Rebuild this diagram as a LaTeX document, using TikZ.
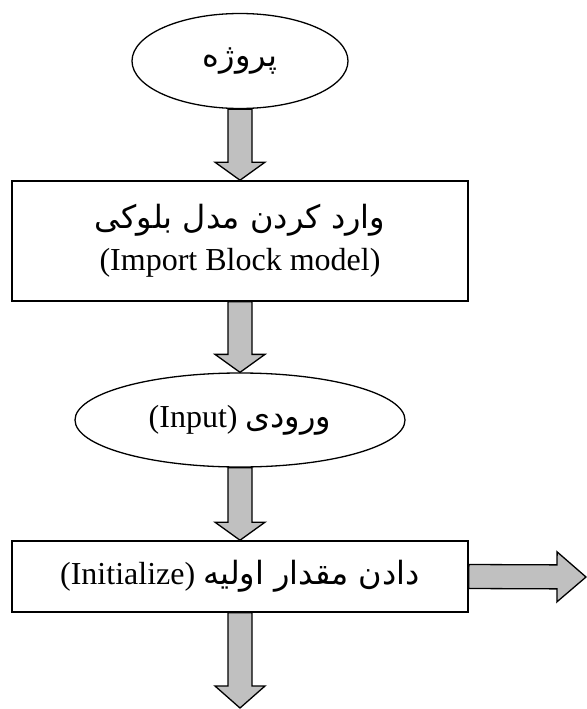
\documentclass[tikz,border=0pt]{standalone}
\usepackage{fontspec}
\setmainfont{Liberation Serif}
\newfontfamily\farsifont[Script=Arabic]{DejaVu Sans}
\TeXXeTstate=1
\usetikzlibrary{shapes.geometric,calc}

\definecolor{arrowgray}{HTML}{C0C0C0}
\tikzset{
  startend/.style={draw, ellipse, line width=1.3pt, inner sep=0pt},
  process/.style={draw, rectangle, line width=1.6pt, inner sep=0pt, minimum width=456pt},
  arrowbody/.style={draw, fill=arrowgray, line width=1.3pt, line join=miter},
}
% persian text, right to left
\newcommand{\fa}[1]{{\farsifont\fontsize{32}{40}\selectfont #1}}
% block arrow from #2 to #3, head length #1
\newcommand{\fatarrow}[3][18pt]{%
  \coordinate (fa-s) at (#2);
  \coordinate (fa-e) at (#3);
  \coordinate (fa-h) at ($(fa-e)!#1!(fa-s)$);
  \draw[arrowbody] ($(fa-s)!12pt!90:(fa-e)$) -- ($(fa-h)!12pt!-90:(fa-s)$)
    -- ($(fa-h)!25pt!-90:(fa-s)$) -- (fa-e) -- ($(fa-h)!25pt!90:(fa-s)$)
    -- ($(fa-h)!12pt!90:(fa-s)$) -- ($(fa-s)!12pt!-90:(fa-e)$) -- cycle;
}

\begin{document}
\begin{tikzpicture}[x=1pt,y=-1pt,font=\fontsize{32}{40}\selectfont]
\useasboundingbox (0,0) rectangle (586,709);

\node[startend, minimum width=216pt, minimum height=95pt] (project) at (240,61)
  {\fa{\beginR پروژه\endR}};
\node[process, minimum height=120pt, align=center] (import) at (240,241)
  {\fa{\beginR وارد کردن مدل بلوکی\endR}\\[2pt](Import Block model)};
\node[startend, minimum width=330pt, minimum height=94pt] (input) at (240,420)
  {\beginR\fa{ورودی} \beginL(Input)\endL{}\endR};
\node[process, minimum height=71pt] (init) at (240,576.5)
  {\beginR\fa{دادن مقدار اولیه} \beginL(Initialize)\endL{}\endR};

\coordinate (next) at (240,708);
\coordinate (side) at (586,577);

\fatarrow{project.south}{import.north}
\fatarrow{import.south}{input.north}
\fatarrow{input.south}{init.north}
\fatarrow[22pt]{init.south}{next}
\fatarrow[29pt]{init.east}{side}
\end{tikzpicture}
\end{document}
